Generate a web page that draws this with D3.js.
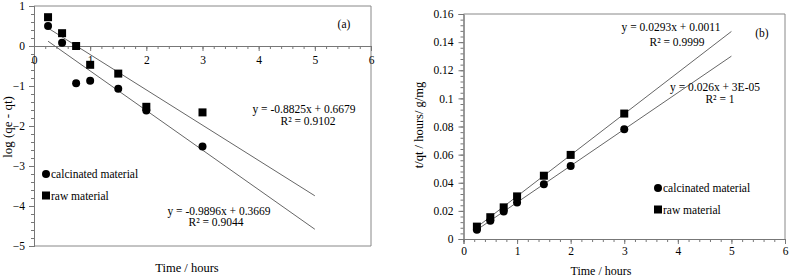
<!DOCTYPE html>
<html>
<head>
<meta charset="utf-8">
<script src="https://cdn.jsdelivr.net/npm/d3@7"></script>
<style>
  body { margin: 0; background: #fff; }
  svg { display: block; font-family: "Liberation Serif", "Times New Roman", serif; }
  .tick text { font-family: "Liberation Serif", "Times New Roman", serif; font-size: 11.5px; fill: #000; }
</style>
</head>
<body>
<svg id="chart" width="790" height="278"></svg>
<script>
// time points (hours)
const times = [0.25, 0.5, 0.75, 1, 1.5, 2, 3]

// (a) pseudo first order: log(qe - qt)
const logCalcinated = [0.5, 0.08, -0.93, -0.87, -1.07, -1.61, -2.51]
const logRaw = [0.72, 0.32, 0.0, -0.47, -0.69, -1.52, -1.66]
const fitA = [ { slope: -0.8825, icpt: 0.6679 }, { slope: -0.9896, icpt: 0.3669 } ]

// (b) pseudo second order: t/qt
const tqCalcinated = [0.0065, 0.013, 0.0195, 0.026, 0.039, 0.052, 0.078]
const tqRaw = [0.0088, 0.0155, 0.0225, 0.0303, 0.045, 0.0598, 0.0892]
const fitB = [ { slope: 0.0293, icpt: 0.0011 }, { slope: 0.026, icpt: 0.00003 } ]

const xTicks = [0, 1, 2, 3, 4, 5, 6]
const yTicksA = [-5, -4, -3, -2, -1, 0, 1]
const yTicksB = [0, 0.02, 0.04, 0.06, 0.08, 0.1, 0.12, 0.14, 0.16]
const fitRange = [0.25, 5]

const svg = d3.select('#chart')
const axisColor = '#777'
const lineColor = '#666'

const drawMarkers = (g, x, y, xs, ys, shape) => {
    const pts = xs.map((d, i) => [d, ys[i]])
    if (shape === 'circle') {
        g.selectAll(null).data(pts).join('circle')
            .attr('cx', d => x(d[0])).attr('cy', d => y(d[1])).attr('r', 4)
            .attr('fill', '#000')
    } else {
        g.selectAll(null).data(pts).join('rect')
            .attr('x', d => x(d[0]) - 4).attr('y', d => y(d[1]) - 4)
            .attr('width', 8).attr('height', 8)
            .attr('fill', '#000')
    }
}

const drawFit = (g, x, y, f) => {
    g.append('line')
        .attr('x1', x(fitRange[0])).attr('y1', y(f.slope * fitRange[0] + f.icpt))
        .attr('x2', x(fitRange[1])).attr('y2', y(f.slope * fitRange[1] + f.icpt))
        .attr('stroke', lineColor).attr('stroke-width', 1)
}

const styleAxis = g => {
    g.attr('font-family', null)
    g.selectAll('.domain').attr('stroke', axisColor)
    g.selectAll('.tick line').attr('stroke', axisColor)
}

const addText = (txt, x, y, anchor, size) => {
    svg.append('text').attr('x', x).attr('y', y)
        .attr('text-anchor', anchor || 'middle')
        .attr('font-size', size || 11.5).attr('fill', '#000')
        .text(txt)
}

const addLegend = (x, y) => {
    svg.append('circle').attr('cx', x).attr('cy', y).attr('r', 4).attr('fill', '#000')
    addText('calcinated material', x + 5, y + 4, 'start')
    svg.append('rect').attr('x', x - 4).attr('y', y + 17.5).attr('width', 8).attr('height', 8).attr('fill', '#000')
    addText('raw material', x + 5, y + 25.5, 'start')
}

// ---------- chart (a) ----------
const xA = d3.scaleLinear().domain([0, 6]).range([34, 371])
const yA = d3.scaleLinear().domain([-5, 1]).range([246, 6])

// frame
svg.append('path')
    .attr('d', `M${xA(0)},${yA(1)}H${xA(6)}V${yA(-5)}H${xA(0)}`)
    .attr('fill', 'none').attr('stroke', '#888')

svg.append('g')
    .attr('transform', `translate(${xA(0)},0)`)
    .call(d3.axisLeft(yA).tickValues(d3.range(-5, 1.001, 0.2)).tickSize(3).tickFormat(''))
    .call(styleAxis)
svg.append('g')
    .attr('transform', `translate(${xA(0)},0)`)
    .call(d3.axisLeft(yA).tickValues(yTicksA).tickSize(5).tickPadding(4).tickFormat(d3.format('d')))
    .call(styleAxis)
svg.append('g')
    .attr('transform', `translate(0,${yA(0)})`)
    .call(d3.axisBottom(xA).tickValues(d3.range(0, 6.001, 0.2)).tickSize(3).tickFormat(''))
    .call(styleAxis)
svg.append('g')
    .attr('transform', `translate(0,${yA(0)})`)
    .call(d3.axisBottom(xA).tickValues(xTicks).tickSize(5).tickPadding(5).tickFormat(d3.format('d')))
    .call(styleAxis)

const gA = svg.append('g')
fitA.forEach(f => drawFit(gA, xA, yA, f))
drawMarkers(gA, xA, yA, times, logCalcinated, 'circle')
drawMarkers(gA, xA, yA, times, logRaw, 'square')

addText('y = -0.8825x + 0.6679', 304, 113)
addText('R² = 0.9102', 308, 125)
addText('y = -0.9896x + 0.3669', 219, 215)
addText('R² = 0.9044', 216, 226)
addText('(a)', 344, 28)
addText('Time / hours', 187, 272, 'middle', 12.5)
svg.append('text')
    .attr('transform', 'translate(12,127) rotate(-90)')
    .attr('text-anchor', 'middle').attr('font-size', 13)
    .text('log (qe - qt)')
addLegend(46, 174)

// ---------- chart (b) ----------
const xB = d3.scaleLinear().domain([0, 6]).range([463.5, 785])
const yB = d3.scaleLinear().domain([0, 0.16]).range([239, 14])

svg.append('path')
    .attr('d', `M${xB(0)},${yB(0.16)}H${xB(6)}V${yB(0)}`)
    .attr('fill', 'none').attr('stroke', '#888')

svg.append('g')
    .attr('transform', `translate(${xB(0)},0)`)
    .call(d3.axisLeft(yB).tickValues(d3.range(0, 0.1601, 0.004)).tickSize(3).tickFormat(''))
    .call(styleAxis)
svg.append('g')
    .attr('transform', `translate(${xB(0)},0)`)
    .call(d3.axisLeft(yB).tickValues(yTicksB).tickSize(5).tickPadding(5).tickFormat(d => d === 0 ? '0' : String(+d.toFixed(2))))
    .call(styleAxis)
svg.append('g')
    .attr('transform', `translate(0,${yB(0)})`)
    .call(d3.axisBottom(xB).tickValues(d3.range(0, 6.001, 0.2)).tickSize(3).tickFormat(''))
    .call(styleAxis)
svg.append('g')
    .attr('transform', `translate(0,${yB(0)})`)
    .call(d3.axisBottom(xB).tickValues(xTicks).tickSize(5).tickPadding(3).tickFormat(d3.format('d')))
    .call(styleAxis)

const gB = svg.append('g')
fitB.forEach(f => drawFit(gB, xB, yB, f))
drawMarkers(gB, xB, yB, times, tqCalcinated, 'circle')
drawMarkers(gB, xB, yB, times, tqRaw, 'square')

addText('y = 0.0293x + 0.0011', 671, 31)
addText('R² = 0.9999', 677, 46)
addText('y = 0.026x + 3E-05', 715, 91)
addText('R² = 1', 720, 103)
addText('(b)', 762, 37)
addText('Time / hours', 601, 275, 'middle', 12)
svg.append('text')
    .attr('transform', 'translate(423,125) rotate(-90)')
    .attr('text-anchor', 'middle').attr('font-size', 12.5)
    .text('t/qt / hours/ g/mg')
addLegend(658, 188)
</script>
</body>
</html>
